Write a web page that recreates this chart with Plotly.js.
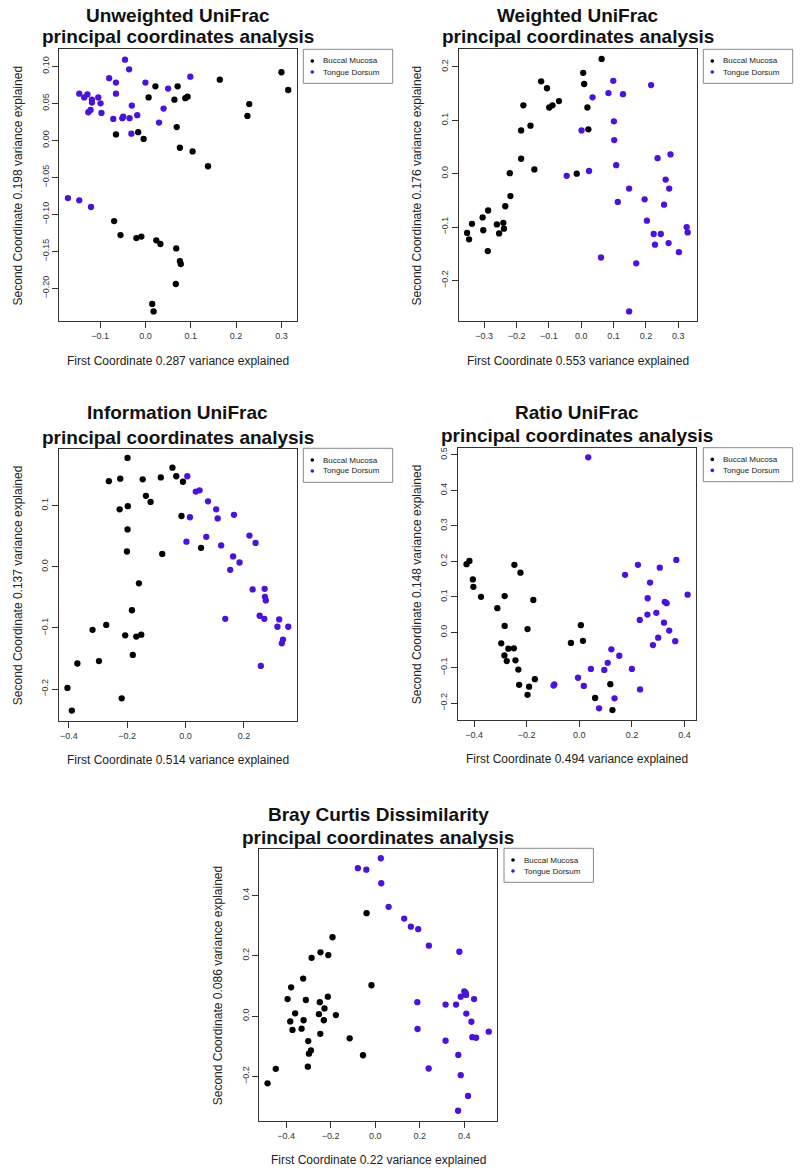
<!DOCTYPE html>
<html><head><meta charset="utf-8">
<script src="https://cdn.plot.ly/plotly-3.0.1.min.js"></script>
<style>html,body{margin:0;padding:0;background:#fff}</style>
</head><body><div id="chart" style="width:800px;height:1172px"></div>
<script>
// Series names
const groupNames = ['Buccal Mucosa', 'Tongue Dorsum'];

// Unweighted UniFrac
const uwBuccalX = [0.300, 0.315, 0.164, 0.229, 0.225, 0.071, 0.022, 0.007, 0.064, 0.088, 0.093, 0.069, -0.065, -0.016, -0.004, 0.076, 0.104, 0.138, -0.069, -0.055, -0.020, -0.009, 0.024, 0.033, 0.068, 0.076, 0.078, 0.067, 0.015, 0.018];
const uwBuccalY = [0.092, 0.068, 0.082, 0.049, 0.033, 0.073, 0.073, 0.058, 0.055, 0.057, 0.059, 0.018, 0.008, 0.011, 0.002, -0.010, -0.015, -0.035, -0.109, -0.128, -0.132, -0.130, -0.135, -0.140, -0.146, -0.163, -0.167, -0.194, -0.221, -0.231];
const uwTongueX = [-0.045, -0.036, -0.080, -0.065, 0.000, 0.050, 0.099, -0.146, -0.135, -0.128, -0.118, -0.104, -0.118, -0.099, -0.065, -0.030, 0.040, -0.126, -0.121, -0.097, -0.071, -0.051, -0.049, -0.035, -0.018, 0.030, -0.031, -0.171, -0.146, -0.120];
const uwTongueY = [0.109, 0.096, 0.084, 0.078, 0.078, 0.070, 0.086, 0.063, 0.058, 0.062, 0.055, 0.058, 0.051, 0.050, 0.063, 0.047, 0.043, 0.038, 0.041, 0.037, 0.029, 0.030, 0.032, 0.030, 0.034, 0.024, 0.009, -0.078, -0.081, -0.090];

// Weighted UniFrac
const wBuccalX = [0.063, 0.006, 0.009, -0.124, -0.106, -0.099, -0.089, -0.069, -0.179, 0.019, -0.157, -0.186, 0.022, -0.186, -0.145, -0.221, -0.014, -0.219, -0.235, -0.288, -0.305, -0.338, -0.261, -0.241, -0.239, -0.303, -0.254, -0.353, -0.347, -0.289];
const wBuccalY = [0.215, 0.189, 0.168, 0.173, 0.160, 0.124, 0.128, 0.136, 0.128, 0.124, 0.090, 0.081, 0.083, 0.028, 0.008, 0.001, 0.000, -0.042, -0.061, -0.069, -0.082, -0.094, -0.095, -0.092, -0.103, -0.106, -0.112, -0.111, -0.123, -0.145];
const wTongueX = [0.099, 0.216, 0.084, 0.129, 0.035, 0.101, 0.001, 0.102, 0.276, 0.236, 0.108, 0.024, -0.045, 0.261, 0.148, 0.272, 0.113, 0.196, 0.256, 0.203, 0.326, 0.329, 0.224, 0.246, 0.228, 0.270, 0.302, 0.061, 0.170, 0.148];
const wTongueY = [0.174, 0.166, 0.151, 0.149, 0.143, 0.098, 0.081, 0.063, 0.036, 0.029, 0.016, 0.005, -0.004, -0.011, -0.028, -0.028, -0.053, -0.048, -0.058, -0.088, -0.100, -0.110, -0.113, -0.113, -0.133, -0.130, -0.147, -0.157, -0.168, -0.258];

// Information UniFrac
const iBuccalX = [-0.199, -0.045, -0.263, -0.224, -0.147, -0.085, -0.032, -0.009, -0.136, -0.120, -0.226, -0.198, -0.014, -0.199, -0.201, -0.080, 0.053, -0.160, -0.184, -0.272, -0.319, -0.207, -0.169, -0.152, -0.181, -0.297, -0.371, -0.405, -0.219, -0.390];
const iBuccalY = [0.178, 0.162, 0.140, 0.144, 0.143, 0.146, 0.148, 0.139, 0.116, 0.106, 0.094, 0.099, 0.083, 0.061, 0.025, 0.021, 0.031, -0.027, -0.071, -0.095, -0.103, -0.112, -0.114, -0.111, -0.144, -0.154, -0.158, -0.198, -0.215, -0.235];
const iTongueX = [0.006, 0.035, 0.048, 0.077, 0.105, 0.015, 0.110, 0.166, 0.003, 0.071, 0.122, 0.219, 0.240, 0.163, 0.185, 0.153, 0.230, 0.271, 0.272, 0.275, 0.136, 0.254, 0.270, 0.321, 0.315, 0.352, 0.334, 0.330, 0.258];
const iTongueY = [0.148, 0.123, 0.125, 0.107, 0.094, 0.081, 0.079, 0.085, 0.041, 0.049, 0.035, 0.051, 0.039, 0.017, 0.007, -0.005, -0.037, -0.036, -0.049, -0.055, -0.085, -0.080, -0.085, -0.086, -0.098, -0.098, -0.119, -0.125, -0.162];

// Ratio UniFrac
const rBuccalX = [-0.429, -0.418, -0.405, -0.403, -0.374, -0.247, -0.224, -0.284, -0.175, -0.312, -0.284, -0.197, 0.006, -0.297, -0.270, -0.249, -0.285, -0.276, -0.243, -0.232, -0.032, 0.014, -0.169, -0.229, -0.191, -0.197, 0.060, 0.118, 0.126];
const rBuccalY = [0.192, 0.201, 0.149, 0.128, 0.100, 0.190, 0.168, 0.102, 0.091, 0.068, 0.018, 0.009, 0.020, -0.031, -0.046, -0.045, -0.065, -0.081, -0.079, -0.105, -0.030, -0.024, -0.132, -0.148, -0.153, -0.176, -0.185, -0.146, -0.219];
const rTongueX = [0.034, 0.369, 0.223, 0.306, 0.174, 0.269, 0.412, 0.260, 0.325, 0.332, 0.259, 0.293, 0.230, 0.322, 0.342, 0.300, 0.280, 0.365, 0.122, 0.152, 0.108, 0.044, 0.095, 0.200, -0.005, -0.095, -0.098, 0.017, 0.231, 0.134, 0.075];
const rTongueY = [0.493, 0.204, 0.190, 0.182, 0.162, 0.140, 0.106, 0.096, 0.086, 0.082, 0.050, 0.055, 0.035, 0.027, 0.005, -0.015, -0.036, -0.025, -0.048, -0.066, -0.086, -0.103, -0.106, -0.103, -0.128, -0.147, -0.150, -0.151, -0.161, -0.186, -0.214];

// Bray Curtis Dissimilarity
const bcBuccalX = [-0.039, -0.192, -0.246, -0.211, -0.286, -0.324, -0.378, -0.017, -0.394, -0.312, -0.213, -0.249, -0.228, -0.360, -0.253, -0.177, -0.382, -0.322, -0.231, -0.372, -0.331, -0.247, -0.301, -0.115, -0.289, -0.298, -0.055, -0.303, -0.447, -0.484];
const bcBuccalY = [0.341, 0.261, 0.211, 0.202, 0.193, 0.124, 0.095, 0.102, 0.056, 0.053, 0.064, 0.046, 0.025, 0.009, 0.006, 0.003, -0.018, -0.014, -0.014, -0.046, -0.042, -0.059, -0.083, -0.074, -0.114, -0.125, -0.130, -0.168, -0.175, -0.223];
const bcTongueX = [0.025, -0.078, -0.040, 0.027, 0.060, 0.130, 0.160, 0.193, 0.241, 0.378, 0.400, 0.406, 0.384, 0.408, 0.444, 0.189, 0.316, 0.363, 0.409, 0.432, 0.190, 0.510, 0.436, 0.453, 0.316, 0.373, 0.240, 0.384, 0.417, 0.372];
const bcTongueY = [0.523, 0.490, 0.485, 0.440, 0.362, 0.323, 0.296, 0.288, 0.233, 0.213, 0.082, 0.077, 0.064, 0.070, 0.056, 0.046, 0.038, 0.038, 0.008, -0.019, -0.043, -0.052, -0.070, -0.072, -0.082, -0.129, -0.174, -0.196, -0.265, -0.314];

// Panel titles and variance explained labels
const panelTitles = ['Unweighted UniFrac', 'Weighted UniFrac', 'Information UniFrac', 'Ratio UniFrac', 'Bray Curtis Dissimilarity'];
const subTitle = 'principal coordinates analysis';
const firstVar = ['0.287', '0.553', '0.514', '0.494', '0.22'];
const secondVar = ['0.198', '0.176', '0.137', '0.148', '0.086'];

const W = 800, H = 1172;
const FONT = 'Liberation Sans, Arial, Helvetica, sans-serif';
const colors = ['#000000', '#4B12DA'];

// Layout geometry (pixels)
const panels = [
  {bx:[59.3,297.3], by:[49.3,321], xr:[-0.190,0.335], yr:[-0.244,0.123], xd:0.1, yd:0.05, xf:'.1f', yf:'.2f', t:[15,37], xt:360.7, yt:18.3, lg:[303.3,49.3],
   data:[[uwBuccalX,uwBuccalY],[uwTongueX,uwTongueY]]},
  {bx:[458.7,696.7], by:[49.3,321], xr:[-0.379,0.357], yr:[-0.276,0.233], xd:0.1, yd:0.1, xf:'.1f', yf:'.1f', t:[15,37], xt:360.7, yt:417.3, lg:[703.3,49.3],
   data:[[wBuccalX,wBuccalY],[wTongueX,wTongueY]]},
  {bx:[58.7,296.7], by:[448.7,721], xr:[-0.435,0.381], yr:[-0.252,0.193], xd:0.2, yd:0.1, xf:'.1f', yf:'.1f', t:[413,437], xt:760, yt:18.3, lg:[303.3,448.3],
   data:[[iBuccalX,iBuccalY],[iTongueX,iTongueY]]},
  {bx:[458,696.3], by:[447.7,720], xr:[-0.4615,0.445], yr:[-0.247,0.520], xd:0.2, yd:0.1, xf:'.1f', yf:'.1f', t:[412,435], xt:759.3, yt:417.3, lg:[703.3,447.7],
   data:[[rBuccalX,rBuccalY],[rTongueX,rTongueY]]},
  {bx:[259.3,497], by:[849,1121], xr:[-0.521,0.547], yr:[-0.348,0.5536], xd:0.2, yd:0.2, xf:'.1f', yf:'.1f', t:[814,837], xt:1160, yt:218.3, lg:[504,848.3],
   data:[[bcBuccalX,bcBuccalY],[bcTongueX,bcTongueY]]}
];

const traces = [];
const layout = {
  width: W, height: H,
  margin: {l:0, r:0, t:0, b:0},
  paper_bgcolor: '#fff', plot_bgcolor: '#fff',
  font: {family: FONT, color: '#222'},
  annotations: [],
  shapes: [],
  showlegend: false
};

const px = v => v / W;
const py = v => 1 - v / H;

panels.forEach((p, i) => {
  const n = i + 1;
  const xa = 'xaxis' + (n === 1 ? '' : n);
  const ya = 'yaxis' + (n === 1 ? '' : n);
  const xid = 'x' + (n === 1 ? '' : n);
  const yid = 'y' + (n === 1 ? '' : n);
  const axCommon = {
    showline: true, mirror: true, linecolor: '#333', linewidth: 1,
    ticks: 'outside', ticklen: 6, tickcolor: '#333', tickwidth: 1,
    showgrid: false, zeroline: false, fixedrange: true,
    tickfont: {family: FONT, size: 9, color: '#333'}
  };
  layout[xa] = Object.assign({}, axCommon, {
    domain: [px(p.bx[0]), px(p.bx[1])], range: p.xr, anchor: yid,
    tick0: 0, dtick: p.xd, tickformat: p.xf
  });
  layout[ya] = Object.assign({}, axCommon, {
    domain: [py(p.by[1]), py(p.by[0])], range: p.yr, anchor: xid,
    tick0: 0, dtick: p.yd, tickformat: p.yf, tickangle: -90
  });
  p.data.forEach((d, g) => {
    traces.push({
      type: 'scatter', mode: 'markers', x: d[0], y: d[1],
      xaxis: xid, yaxis: yid, name: groupNames[g],
      marker: {color: colors[g], size: 6.3, line: {width: 0}},
      showlegend: false, hoverinfo: 'x+y+name'
    });
  });
  const cx = (p.bx[0] + p.bx[1]) / 2;
  const cy = (p.by[0] + p.by[1]) / 2;
  layout.annotations.push(
    {xref:'paper', yref:'paper', x: px(cx), y: py(p.t[0]), text: panelTitles[i], showarrow:false,
     xanchor:'center', yanchor:'middle', font:{family:FONT, size:19, weight:700, color:'#111'}},
    {xref:'paper', yref:'paper', x: px(cx), y: py(p.t[1]), text: subTitle, showarrow:false,
     xanchor:'center', yanchor:'middle', font:{family:FONT, size:19, weight:700, color:'#111'}},
    {xref:'paper', yref:'paper', x: px(cx), y: py(p.xt), text: 'First Coordinate ' + firstVar[i] + ' variance explained', showarrow:false,
     xanchor:'center', yanchor:'middle', font:{family:FONT, size:12, color:'#222'}},
    {xref:'paper', yref:'paper', x: px(p.yt), y: py(cy), text: 'Second Coordinate ' + secondVar[i] + ' variance explained', showarrow:false,
     textangle: -90, xanchor:'center', yanchor:'middle', font:{family:FONT, size:12, color:'#222'}}
  );
  // Legend box (R-style): border, key symbols and labels
  const lx = p.lg[0], ly = p.lg[1];
  layout.shapes.push({type:'rect', xref:'paper', yref:'paper', x0: px(lx), x1: px(lx + 89.4), y0: py(ly), y1: py(ly + 34),
    line:{color:'#888', width:1}, fillcolor:'#fff', layer:'above'});
  groupNames.forEach((name, g) => {
    const rowY = ly + 11.7 + g * 11;
    const r = 1.8;
    layout.shapes.push({type:'circle', xref:'paper', yref:'paper',
      x0: px(lx + 9 - r), x1: px(lx + 9 + r), y0: py(rowY + r), y1: py(rowY - r),
      line:{width:0}, fillcolor: colors[g], layer:'above'});
    layout.annotations.push({xref:'paper', yref:'paper', x: px(lx + 17.5), y: py(rowY), text: name, showarrow:false,
      xanchor:'left', yanchor:'middle', font:{family:FONT, size:8, color:'#222'}});
  });
});

Plotly.newPlot('chart', traces, layout, {staticPlot: true, displayModeBar: false});
</script>
</body></html>
